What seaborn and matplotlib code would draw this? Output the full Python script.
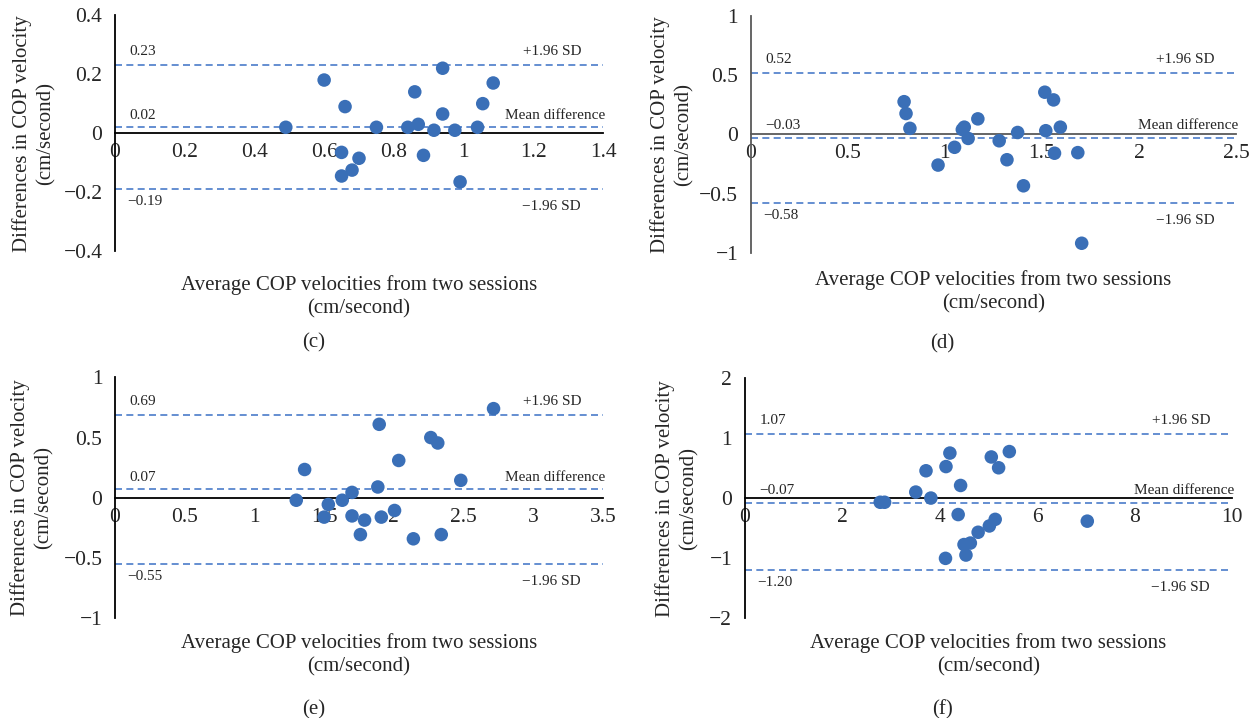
import matplotlib.pyplot as plt
import matplotlib.transforms as mtransforms
import pandas as pd
import seaborn as sns

# Bland-Altman data
c_avg = [0.49, 0.60, 0.66, 0.65, 0.70, 0.68, 0.65, 0.75, 0.84, 0.86,
         0.87, 0.885, 0.915, 0.94, 0.94, 0.975, 0.99, 1.04, 1.055, 1.085]
c_diff = [0.02, 0.18, 0.09, -0.065, -0.085, -0.125, -0.145, 0.02, 0.02, 0.14,
          0.03, -0.075, 0.01, 0.065, 0.22, 0.01, -0.165, 0.02, 0.10, 0.17]

d_avg = [0.79, 0.80, 0.82, 0.965, 1.05, 1.09, 1.10, 1.12, 1.17, 1.28,
         1.32, 1.375, 1.405, 1.515, 1.52, 1.56, 1.565, 1.595, 1.685, 1.705]
d_diff = [0.275, 0.175, 0.05, -0.26, -0.11, 0.04, 0.06, -0.035, 0.13, -0.055,
          -0.215, 0.015, -0.435, 0.355, 0.03, 0.29, -0.16, 0.06, -0.155, -0.92]

e_avg = [1.30, 1.36, 1.50, 1.53, 1.63, 1.70, 1.70, 1.79, 1.76, 1.885,
         1.895, 1.91, 2.005, 2.035, 2.14, 2.265, 2.315, 2.34, 2.48, 2.715]
e_diff = [-0.02, 0.235, -0.16, -0.055, -0.02, 0.045, -0.15, -0.185, -0.305, 0.09,
          0.61, -0.16, -0.105, 0.31, -0.34, 0.50, 0.455, -0.305, 0.145, 0.74]

f_avg = [2.78, 2.87, 3.51, 3.72, 3.82, 4.12, 4.13, 4.21, 4.38, 4.43,
         4.50, 4.63, 4.54, 4.79, 5.02, 5.14, 5.06, 5.21, 5.43, 7.03]
f_diff = [-0.065, -0.065, 0.105, 0.46, 0.005, -1.0, 0.53, 0.755, -0.27, 0.215,
          -0.77, -0.745, -0.945, -0.565, -0.46, -0.35, 0.69, 0.51, 0.78, -0.38]

# upper limit, mean difference, lower limit
c_limits = [0.23, 0.02, -0.19]
d_limits = [0.52, -0.03, -0.58]
e_limits = [0.69, 0.07, -0.55]
f_limits = [1.07, -0.07, -1.20]

c_xticks = [0, 0.2, 0.4, 0.6, 0.8, 1, 1.2, 1.4]
c_yticks = [-0.4, -0.2, 0, 0.2, 0.4]
d_xticks = [0, 0.5, 1, 1.5, 2, 2.5]
d_yticks = [-1, -0.5, 0, 0.5, 1]
e_xticks = [0, 0.5, 1, 1.5, 2, 2.5, 3, 3.5]
e_yticks = [-1, -0.5, 0, 0.5, 1]
f_xticks = [0, 2, 4, 6, 8, 10]
f_yticks = [-2, -1, 0, 1, 2]

sns.set_style("white")
plt.rcParams['font.family'] = ['Liberation Serif', 'DejaVu Serif']

DOT = '#3a6fb7'
DASH = '#4a7cc9'


def fmt(v):
    return ('%g' % v).replace('-', '\u2212')


def fmt_lim(v):
    return ('%.2f' % v).replace('-', '\u2212')


fig = plt.figure(figsize=(12.5, 7.18), dpi=100)

panels = [
    # avg, diff, limits, xticks, yticks, rect, axis colour, letter,
    # ylabel x, xlabel y
    (c_avg, c_diff, c_limits, c_xticks, c_yticks,
     [0.092, 0.650, 0.3904, 0.329], 'black', '(c)', -0.121, -0.10),
    (d_avg, d_diff, d_limits, d_xticks, d_yticks,
     [0.6006, 0.648, 0.3882, 0.330], '#595959', '(d)', -0.117, -0.075),
    (e_avg, e_diff, e_limits, e_xticks, e_yticks,
     [0.092, 0.1388, 0.3904, 0.3357], 'black', '(e)', -0.125, -0.06),
    (f_avg, f_diff, f_limits, f_xticks, f_yticks,
     [0.5958, 0.1388, 0.3898, 0.3342], 'black', '(f)', -0.094, -0.06),
]

for avg, diff, limits, xticks, yticks, rect, acol, letter, ylx, xly in panels:
    ax = fig.add_axes(rect)
    df = pd.DataFrame({'avg': avg, 'diff': diff})

    for val in limits:
        ax.axhline(val, color=DASH, lw=1.2, ls=(0, (4.2, 2.6)), zorder=1)

    sns.scatterplot(data=df, x='avg', y='diff', ax=ax, color=DOT, s=95,
                    edgecolor='none', zorder=3)

    ax.set_xlim(xticks[0], xticks[-1])
    ax.set_ylim(yticks[0], yticks[-1])
    ax.set_xticks(xticks)
    ax.set_xticklabels([fmt(v) for v in xticks])
    ax.set_yticks(yticks)
    ax.set_yticklabels([fmt(v) for v in yticks])
    ax.tick_params(axis='both', length=0, labelsize=15.5)
    ax.tick_params(axis='y', pad=9)
    ax.tick_params(axis='x', pad=7)

    for side in ['top', 'right']:
        ax.spines[side].set_visible(False)
    ax.spines['bottom'].set_position(('data', 0))
    for side in ['bottom', 'left']:
        ax.spines[side].set_color(acol)
        ax.spines[side].set_linewidth(1.3)
        ax.spines[side].set_zorder(2)
    ax.set_facecolor('white')

    ax.set_xlabel('')
    ax.set_ylabel('Differences in COP velocity\n(cm/second)', fontsize=15,
                  linespacing=1.35)
    ax.yaxis.set_label_coords(ylx, 0.5)
    ax.text(0.5, xly, 'Average COP velocities from two sessions\n(cm/second)',
            transform=ax.transAxes, ha='center', va='top', fontsize=15,
            linespacing=1.3)

    trans = mtransforms.blended_transform_factory(ax.transAxes, ax.transData)
    up, mean, low = limits
    ax.annotate(fmt_lim(up), xy=(0.03, up), xycoords=trans, xytext=(0, 5),
                textcoords='offset points', ha='left', va='bottom', fontsize=11)
    ax.annotate('+1.96 SD', xy=(0.955, up), xycoords=trans, xytext=(0, 5),
                textcoords='offset points', ha='right', va='bottom', fontsize=11)
    ax.annotate(fmt_lim(mean), xy=(0.03, mean), xycoords=trans, xytext=(0, 4),
                textcoords='offset points', ha='left', va='bottom', fontsize=11)
    ax.annotate('Mean difference', xy=(1.005, mean), xycoords=trans,
                xytext=(0, 4), textcoords='offset points', ha='right',
                va='bottom', fontsize=11)
    ax.annotate(fmt_lim(low), xy=(0.025, low), xycoords=trans, xytext=(0, -4),
                textcoords='offset points', ha='left', va='top', fontsize=11)
    ax.annotate('\u22121.96 SD', xy=(0.955, low), xycoords=trans,
                xytext=(0, -8), textcoords='offset points', ha='right',
                va='top', fontsize=11)

    fx = 0.251 if rect[0] < 0.5 else 0.754
    fy = rect[1] - 0.127
    fig.text(fx, fy, letter, ha='center', va='center', fontsize=15)

fig.savefig('out.png', dpi=100, facecolor='white')
